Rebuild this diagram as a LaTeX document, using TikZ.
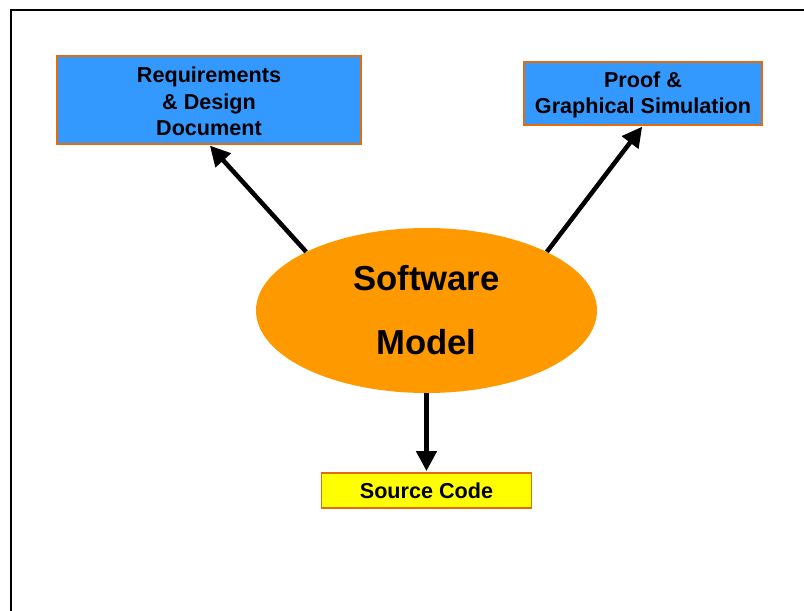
\documentclass[tikz,border=0pt]{standalone}
\usepackage{fontspec}
\setmainfont{Liberation Sans}
\usetikzlibrary{calc,positioning,arrows.meta,shapes}
\usepackage{xcolor}
\definecolor{boxblue}{RGB}{51,153,255}
\definecolor{edgeorange}{RGB}{228,108,10}
\definecolor{modelorange}{RGB}{255,153,0}
\definecolor{codeyellow}{RGB}{255,255,0}

\begin{document}
\begin{tikzpicture}[x=0.75pt,y=-0.75pt]
\useasboundingbox (0,0) rectangle (804,611);
\draw[line width=1.8pt] (11,611) -- (11,10) -- (804,10);
\tikzstyle{docbox}=[rectangle, draw=edgeorange, line width=0.9pt, inner sep=0pt, align=center, font=\fontsize{16.2}{20}\selectfont\bfseries]
\tikzstyle{flow}=[line width=3.4pt, -{Triangle[length=15pt,width=15pt]}, shorten >=1pt]
\node[docbox, fill=boxblue, minimum width=228pt, minimum height=66pt] (req) at (209,100) {\strut Requirements\\\& Design\\Document};
\node[docbox, fill=boxblue, minimum width=178.5pt, minimum height=47.25pt] (proof) at (643,93.5) {\strut Proof \&\\Graphical Simulation};
\node[ellipse, fill=modelorange, minimum width=255.75pt, minimum height=123.75pt, inner sep=0pt, align=center, font=\fontsize{26}{48}\selectfont\bfseries] (model) at (426.5,310.5) {Software\\Model};
\node[docbox, fill=codeyellow, minimum width=157.5pt, minimum height=26.25pt] (code) at (426.5,490.5) {Source Code};
\draw[flow] (model.154) -- (req.south);
\draw[flow] (model.26) -- (proof.south);
\draw[flow] (model.south) -- (code.north);
\end{tikzpicture}
\end{document}
